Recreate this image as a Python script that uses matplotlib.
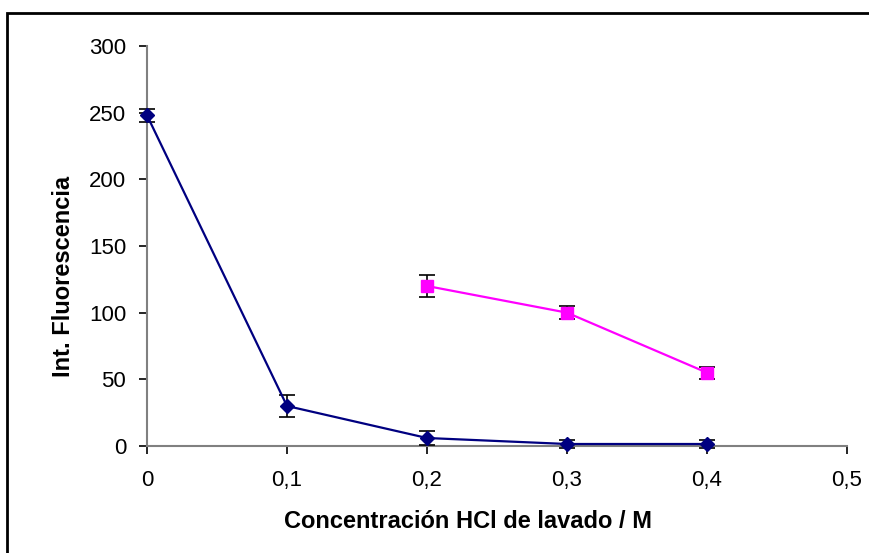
import matplotlib.pyplot as plt
from matplotlib.patches import Rectangle

plt.rcParams['font.family'] = ['Liberation Sans', 'DejaVu Sans']

conc = [0, 0.1, 0.2, 0.3, 0.4]
fluor_blue = [248, 30, 6, 1.5, 1.5]
err_blue = [5, 8, 5, 3, 3]

conc_pink = [0.2, 0.3, 0.4]
fluor_pink = [120, 100, 55]
err_pink = [8, 5, 4.5]

xticks = [0, 0.1, 0.2, 0.3, 0.4, 0.5]
xticklabels = ['0', '0,1', '0,2', '0,3', '0,4', '0,5']
yticks = [0, 50, 100, 150, 200, 250, 300]

fig = plt.figure(figsize=(8.7, 5.53), dpi=100)
ax = fig.add_axes([147 / 870, 1 - 446 / 553, 700 / 870, 400 / 553])

# outer chart border (runs off the right and bottom edges)
fig.patches.append(Rectangle((7 / 870, -0.1), 1.0, 1 - 13 / 553 + 0.1,
                             transform=fig.transFigure, fill=False,
                             edgecolor='black', linewidth=2, zorder=0))

ax.errorbar(conc, fluor_blue, yerr=err_blue, color='#000080', marker='D',
            markersize=7, linewidth=1.6, ecolor='black', elinewidth=1.2,
            capsize=6, capthick=1.2, clip_on=False, zorder=3)
ax.errorbar(conc_pink, fluor_pink, yerr=err_pink, color='#FF00FF', marker='s',
            markersize=8, linewidth=1.6, ecolor='black', elinewidth=1.2,
            capsize=6, capthick=1.2, clip_on=False, zorder=3)

ax.set_xlim(0, 0.5)
ax.set_ylim(0, 300)
ax.set_xticks(xticks)
ax.set_xticklabels(xticklabels)
ax.set_yticks(yticks)

for side in ['top', 'right']:
    ax.spines[side].set_visible(False)
for side in ['left', 'bottom']:
    ax.spines[side].set_color('#808080')
    ax.spines[side].set_linewidth(1.5)
ax.tick_params(direction='out', length=6, width=1.2, color='black',
               labelsize=16)
ax.tick_params(axis='y', pad=9)
ax.tick_params(axis='x', pad=11)

ax.set_xlabel('Concentración HCl de lavado / M', fontsize=17,
              fontweight='bold', labelpad=14, x=0.459)
ax.set_ylabel('Int. Fluorescencia', fontsize=17, fontweight='bold',
              labelpad=10, y=0.425)

fig.savefig('out.png', dpi=100)
